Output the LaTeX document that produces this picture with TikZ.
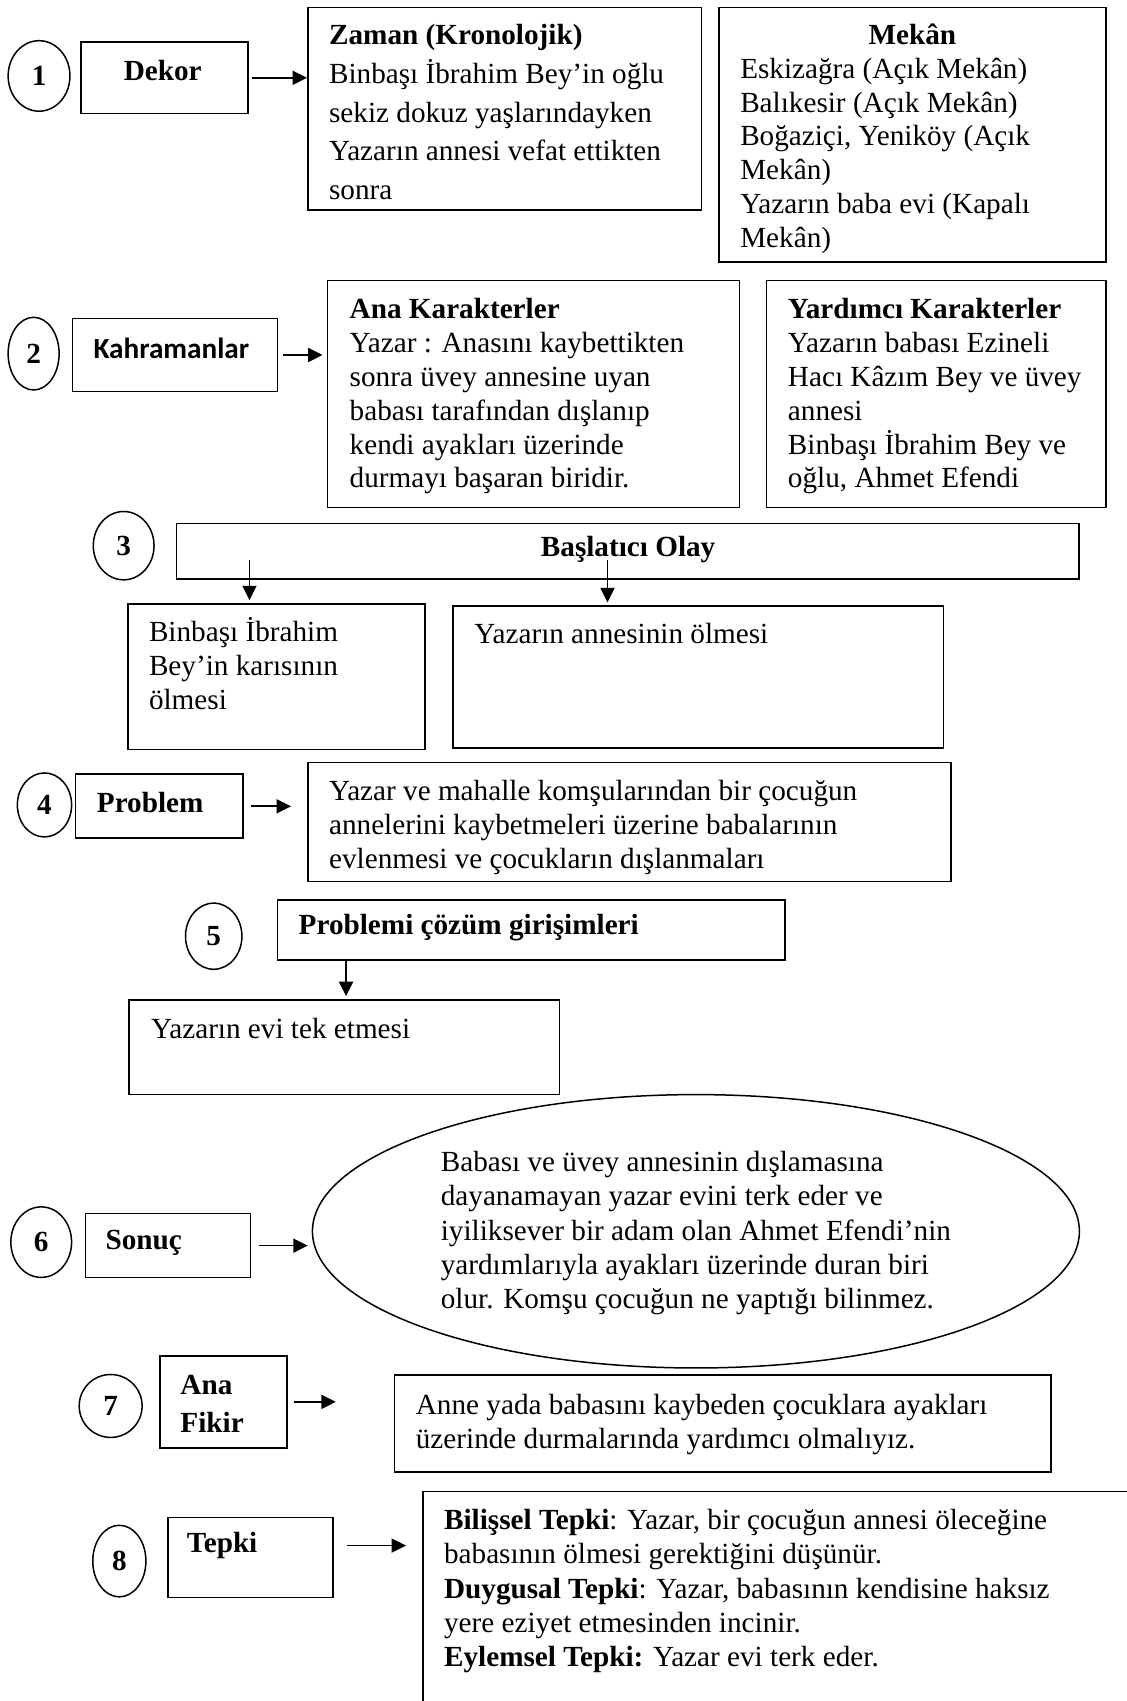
\documentclass[tikz,border=0pt]{standalone}
\usepackage{fontspec}
\setmainfont{Liberation Serif}
\newfontfamily\calibri{Carlito}
\usepackage{tikz}
\usetikzlibrary{arrows.meta,shapes.geometric}
\newcommand{\px}{0.5424pt}

\begin{document}
\begin{tikzpicture}[x=0.5424pt, y=-0.5424pt,
	every node/.style={font=\fontsize{14.6}{16.9}\selectfont},
	>={Triangle[length=7.2pt, width=7pt]},
	kutu/.style={draw, line width=0.8pt, rectangle, anchor=north west, inner sep=0pt},
	yazi/.style={anchor=north west, align=left, inner sep=0pt},
	numara/.style={draw, ellipse, line width=0.75pt, inner sep=0pt, font=\fontsize{14.6}{16.9}\selectfont\bfseries},
	ok/.style={->, line width=0.85pt}]
	\useasboundingbox (0,0) rectangle (1038,1568);
	% 1 dekor
	\node[numara, minimum width=57*\px, minimum height=65*\px] (n1) at (36,70) {1};
	\node[kutu, minimum width=154*\px, minimum height=66*\px] (dekor) at (74,38) {};
	\node[yazi, anchor=center, font=\fontsize{14.6}{16.9}\selectfont\bfseries] (dekorT) at (150,65) {Dekor};
	\node[kutu, minimum width=363*\px, minimum height=187*\px] (zaman) at (283,6) {};
	\node[yazi, font=\fontsize{14.6}{19.4}\selectfont] (zamanT) at (303,22) {\textbf{Zaman (Kronolojik)}\\
		Binbaşı İbrahim Bey’in oğlu\\
		sekiz dokuz yaşlarındayken\\
		Yazarın annesi vefat ettikten\\
		sonra};
	\node[kutu, minimum width=357*\px, minimum height=235*\px] (mekan) at (662,6) {};
	\node[yazi, anchor=center, font=\fontsize{14.6}{16.9}\selectfont\bfseries] (mekanB) at (841,32) {Mekân};
	\node[yazi] (mekanT) at (682,53) {Eskizağra (Açık Mekân)\\
		Balıkesir (Açık Mekân)\\
		Boğaziçi, Yeniköy (Açık\\
		Mekân)\\
		Yazarın baba evi (Kapalı\\
		Mekân)};
	\draw[ok, shorten <=1.5pt] (dekor.east) -- (dekor.east -| zaman.west);

	% 2 kahramanlar
	\node[numara, minimum width=47*\px, minimum height=67*\px] (n2) at (31,326) {2};
	\node[kutu, minimum width=189*\px, minimum height=67*\px] (kahraman) at (66,293) {};
	\node[yazi, anchor=center, font=\fontsize{14.6}{16.9}\calibri\bfseries] (kahramanT) at (158,321) {Kahramanlar};
	\node[kutu, minimum width=380*\px, minimum height=209*\px] (ana) at (301,258) {};
	\node[yazi] (anaT) at (322,275) {\textbf{Ana Karakterler}\\
		Yazar : Anasını kaybettikten\\
		sonra üvey annesine uyan\\
		babası tarafından dışlanıp\\
		kendi ayakları üzerinde\\
		durmayı başaran biridir.};
	\node[kutu, minimum width=313*\px, minimum height=209*\px] (yardimci) at (706,258) {};
	\node[yazi] (yardimciT) at (726,275) {\textbf{Yardımcı Karakterler}\\
		Yazarın babası Ezineli\\
		Hacı Kâzım Bey ve üvey\\
		annesi\\
		Binbaşı İbrahim Bey ve\\
		oğlu, Ahmet Efendi};
	\draw[ok, shorten <=2.5pt, shorten >=2pt] (kahraman.east) -- (kahraman.east -| ana.west);

	% 3 baslatici olay
	\node[numara, minimum width=56*\px, minimum height=63*\px] (n3) at (114,503) {3};
	\node[kutu, minimum width=832*\px, minimum height=51*\px] (olay) at (162,482) {};
	\node[yazi, anchor=center, font=\fontsize{14.6}{16.9}\selectfont\bfseries] (olayT) at (579,507) {Başlatıcı Olay};
	\node[kutu, minimum width=274*\px, minimum height=134*\px] (olayA) at (117,556) {};
	\node[yazi] (olayAT) at (137,569) {Binbaşı İbrahim\\
		Bey’in karısının\\
		ölmesi};
	\node[kutu, minimum width=452*\px, minimum height=131*\px] (olayB) at (417,558) {};
	\node[yazi, anchor=west] (olayBT) at (437,584) {Yazarın annesinin ölmesi};
	\coordinate (olayOkA) at (230,516);
	\coordinate (olayOkB) at (560,516);
	\draw[ok, shorten >=1.5pt] (olayOkA) -- (olayOkA |- olayA.north);
	\draw[ok, shorten >=1.5pt] (olayOkB) -- (olayOkB |- olayB.north);

	% 4 problem
	\node[numara, minimum width=50*\px, minimum height=59*\px] (n4) at (41,742) {4};
	\node[kutu, minimum width=154*\px, minimum height=59*\px] (problem) at (69,713) {};
	\node[yazi, anchor=west, font=\fontsize{14.6}{16.9}\selectfont\bfseries] (problemT) at (89,740) {Problem};
	\node[kutu, minimum width=593*\px, minimum height=110*\px] (problemK) at (283,702) {};
	\node[yazi] (problemKT) at (303,719) {Yazar ve mahalle komşularından bir çocuğun\\
		annelerini kaybetmeleri üzerine babalarının\\
		evlenmesi ve çocukların dışlanmaları};
	\draw[ok, shorten <=3.8pt, shorten >=8pt] (problem.east) -- (problem.east -| problemK.west);

	% 5 cozum girisimleri
	\node[numara, minimum width=52*\px, minimum height=61*\px] (n5) at (197,863) {5};
	\node[kutu, minimum width=468*\px, minimum height=55*\px] (cozum) at (255,829) {};
	\node[yazi, anchor=west, font=\fontsize{14.6}{16.9}\selectfont\bfseries] (cozumT) at (275,855) {Problemi çözüm girişimleri};
	\node[kutu, minimum width=397*\px, minimum height=87*\px] (ev) at (118,921) {};
	\node[yazi, anchor=west] (evT) at (139,948) {Yazarın evi tek etmesi};
	\coordinate (cozumOk) at (319,884);
	\draw[ok, shorten >=1.5pt] (cozumOk) -- (cozumOk |- ev.north);

	% 6 sonuc
	\node[numara, minimum width=56*\px, minimum height=65*\px] (n6) at (38,1145) {6};
	\node[kutu, minimum width=152*\px, minimum height=59*\px] (sonuc) at (78,1118) {};
	\node[yazi, anchor=west, font=\fontsize{14.6}{16.9}\selectfont\bfseries] (sonucT) at (97,1146) {Sonuç};
	\node[draw, ellipse, line width=0.75pt, inner sep=0pt, minimum width=707*\px, minimum height=252*\px] (sonucE) at (641.5,1135) {};
	\node[yazi, font=\fontsize{14.6}{17.1}\selectfont] (sonucET) at (406,1061) {Babası ve üvey annesinin dışlamasına\\
		dayanamayan yazar evini terk eder ve\\
		iyiliksever bir adam olan Ahmet Efendi’nin\\
		yardımlarıyla ayakları üzerinde duran biri\\
		olur. Komşu çocuğun ne yaptığı bilinmez.};
	\draw[ok, shorten <=3.8pt, shorten >=2pt] (sonuc.east) -- (sonuc.east -| sonucE.west);

	% 7 ana fikir
	\node[numara, minimum width=58*\px, minimum height=58*\px] (n7) at (102,1296) {7};
	\node[kutu, minimum width=117*\px, minimum height=85*\px] (fikir) at (147,1249) {};
	\node[yazi, font=\fontsize{14.6}{19}\selectfont\bfseries] (fikirT) at (166,1267) {Ana\\Fikir};
	\node[kutu, minimum width=605*\px, minimum height=89*\px] (fikirK) at (363,1267) {};
	\node[yazi] (fikirKT) at (383,1285) {Anne yada babasını kaybeden çocuklara ayakları\\
		üzerinde durmalarında yardımcı olmalıyız.};
	\draw[ok, shorten <=3.2pt, shorten >=29pt] (fikir.east) -- (fikir.east -| fikirK.west);

	% 8 tepki
	\node[numara, minimum width=49*\px, minimum height=66*\px] (n8) at (110,1439) {8};
	\node[kutu, minimum width=152*\px, minimum height=74*\px] (tepki) at (154,1398) {};
	\node[yazi, anchor=west, font=\fontsize{14.6}{16.9}\selectfont\bfseries] (tepkiT) at (172,1425) {Tepki};
	\node[kutu, minimum width=700*\px, minimum height=300*\px] (tepkiK) at (389,1374) {};
	\node[yazi, font=\fontsize{14.6}{17.1}\selectfont] (tepkiKT) at (409,1391) {\textbf{Bilişsel Tepki}: Yazar, bir çocuğun annesi öleceğine\\
		babasının ölmesi gerektiğini düşünür.\\
		\textbf{Duygusal Tepki}: Yazar, babasının kendisine haksız\\
		yere eziyet etmesinden incinir.\\
		\textbf{Eylemsel Tepki:} Yazar evi terk eder.};
	\draw[ok, shorten <=6.5pt, shorten >=8pt] ([yshift=6pt]tepki.east) -- ([yshift=6pt]tepki.east -| tepkiK.west);
\end{tikzpicture}
\end{document}
